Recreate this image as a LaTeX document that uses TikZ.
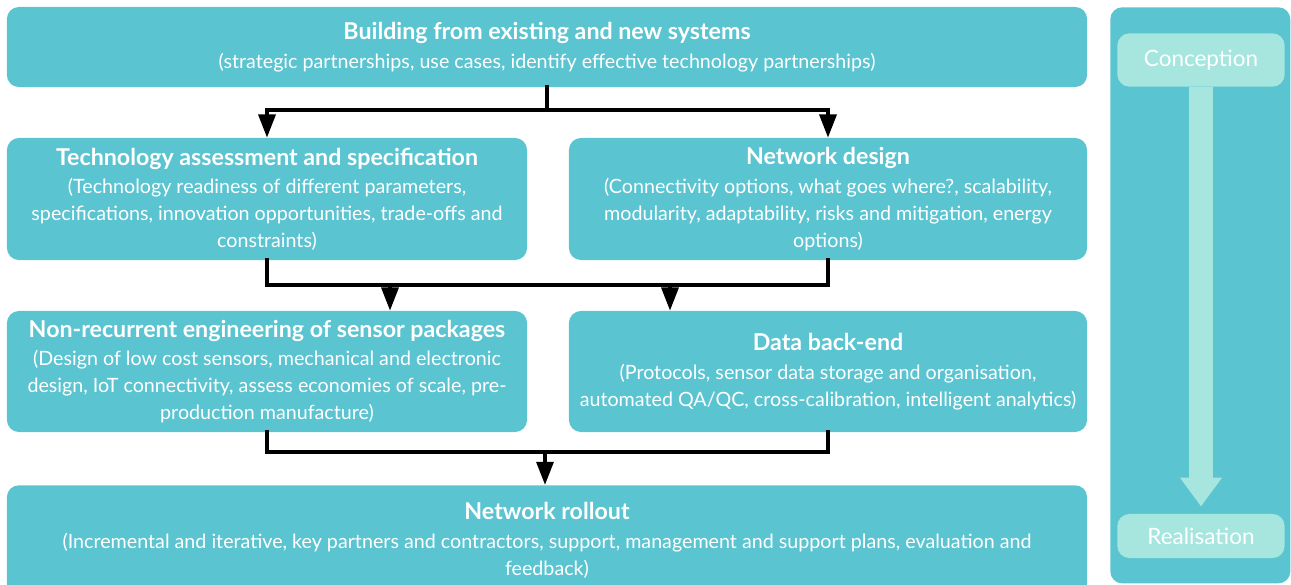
\documentclass[tikz,border=0pt]{standalone}
\usepackage{fontspec}
\setmainfont{Lato}
\usetikzlibrary{arrows.meta}

\definecolor{boxteal}{HTML}{5BC4D1}
\definecolor{paleteal}{HTML}{A6E6DF}

\newcommand{\stagetitle}[1]{{\fontsize{16.5}{19}\selectfont\bfseries #1}\\[1pt]}

\begin{document}
\begin{tikzpicture}[x = 0.025cm, y = -0.025cm,
    stage/.style = {fill = boxteal, rounded corners = 0.3cm, text = white, align = center,
      font = \fontsize{14}{19.2}\selectfont, inner sep = 0pt},
    halfstage/.style = {stage, minimum width = 13cm, minimum height = 3.05cm},
    fullstage/.style = {stage, minimum width = 27cm},
    phase/.style = {fill = paleteal, rounded corners = 0.3cm, text = white,
      minimum width = 4.18cm, font = \fontsize{16}{18}\selectfont},
    link/.style = {line width = 2.7pt, line cap = rect},
    arrow/.style = {link, -{Triangle[width = 0.42cm, length = 0.58cm]}}]
  \useasboundingbox (0, 0) rectangle (1291, 585);

  % side panel
  \node[fill = boxteal, rounded corners = 0.3cm, minimum width = 4.5cm, minimum height = 14.4cm,
    anchor = north west] (panel) at (1110, 7) {};
  \node[phase, minimum height = 1.33cm] (concept) at (1201, 60) {Conception};
  \node[phase, minimum height = 1.1cm] (real) at (1201, 536) {Realisation};
  \draw[paleteal, line width = 0.58cm, -{Triangle[width = 1cm, length = 0.72cm]}, shorten > = 0.18cm]
    (concept) -- (real);

  % stages
  \node[fullstage, minimum height = 2cm] (build) at (547, 47)
    {\stagetitle{Building from existing and new systems}
     (strategic partnerships, use cases, identify effective technology partnerships)};
  \node[halfstage] (tech) at (267, 199)
    {\stagetitle{Technology assessment and specification}
     (Technology readiness of different parameters,\\
     specifications, innovation opportunities, trade-offs and\\
     constraints)};
  \node[halfstage, minimum width = 12.95cm] (netdes) at (828, 199)
    {\stagetitle{Network design}
     (Connectivity options, what goes where?, scalability,\\
     modularity, adaptability, risks and mitigation, energy\\
     options)};
  \node[halfstage, minimum height = 3.025cm] (nre) at (267, 371.5)
    {\stagetitle{Non-recurrent engineering of sensor packages}
     (Design of low cost sensors, mechanical and electronic\\
     design, IoT connectivity, assess economies of scale, pre-\\
     production manufacture)};
  \node[halfstage, minimum width = 12.95cm, minimum height = 3.025cm] (data) at (828, 371.5)
    {\stagetitle{Data back-end}
     (Protocols, sensor data storage and organisation,\\
     automated QA/QC, cross-calibration, intelligent analytics)};
  \node[fullstage, minimum height = 2.75cm, anchor = north] (rollout) at (547, 485)
    {\stagetitle{Network rollout}
     (Incremental and iterative, key partners and contractors, support, management and support plans, evaluation and\\
     feedback)};

  % connectors
  \coordinate (bus1) at (547, 110);
  \coordinate (bus2) at (547, 285);
  \coordinate (bus3) at (545, 452);
  \coordinate (drop1) at (390, 285);
  \coordinate (drop2) at (670, 285);
  \draw[link] (build.south -| bus1) -- (bus1);
  \draw[arrow] (bus1) -| (tech.north);
  \draw[arrow] (bus1) -| (netdes.north);
  \draw[link] (tech.south) |- (bus2) -| (netdes.south);
  \draw[arrow] (drop1) -- (drop1 |- nre.north);
  \draw[arrow] (drop2) -- (drop2 |- data.north);
  \draw[link] (nre.south) |- (bus3) -| (data.south);
  \draw[arrow] (bus3) -- (bus3 |- rollout.north);
\end{tikzpicture}
\end{document}
